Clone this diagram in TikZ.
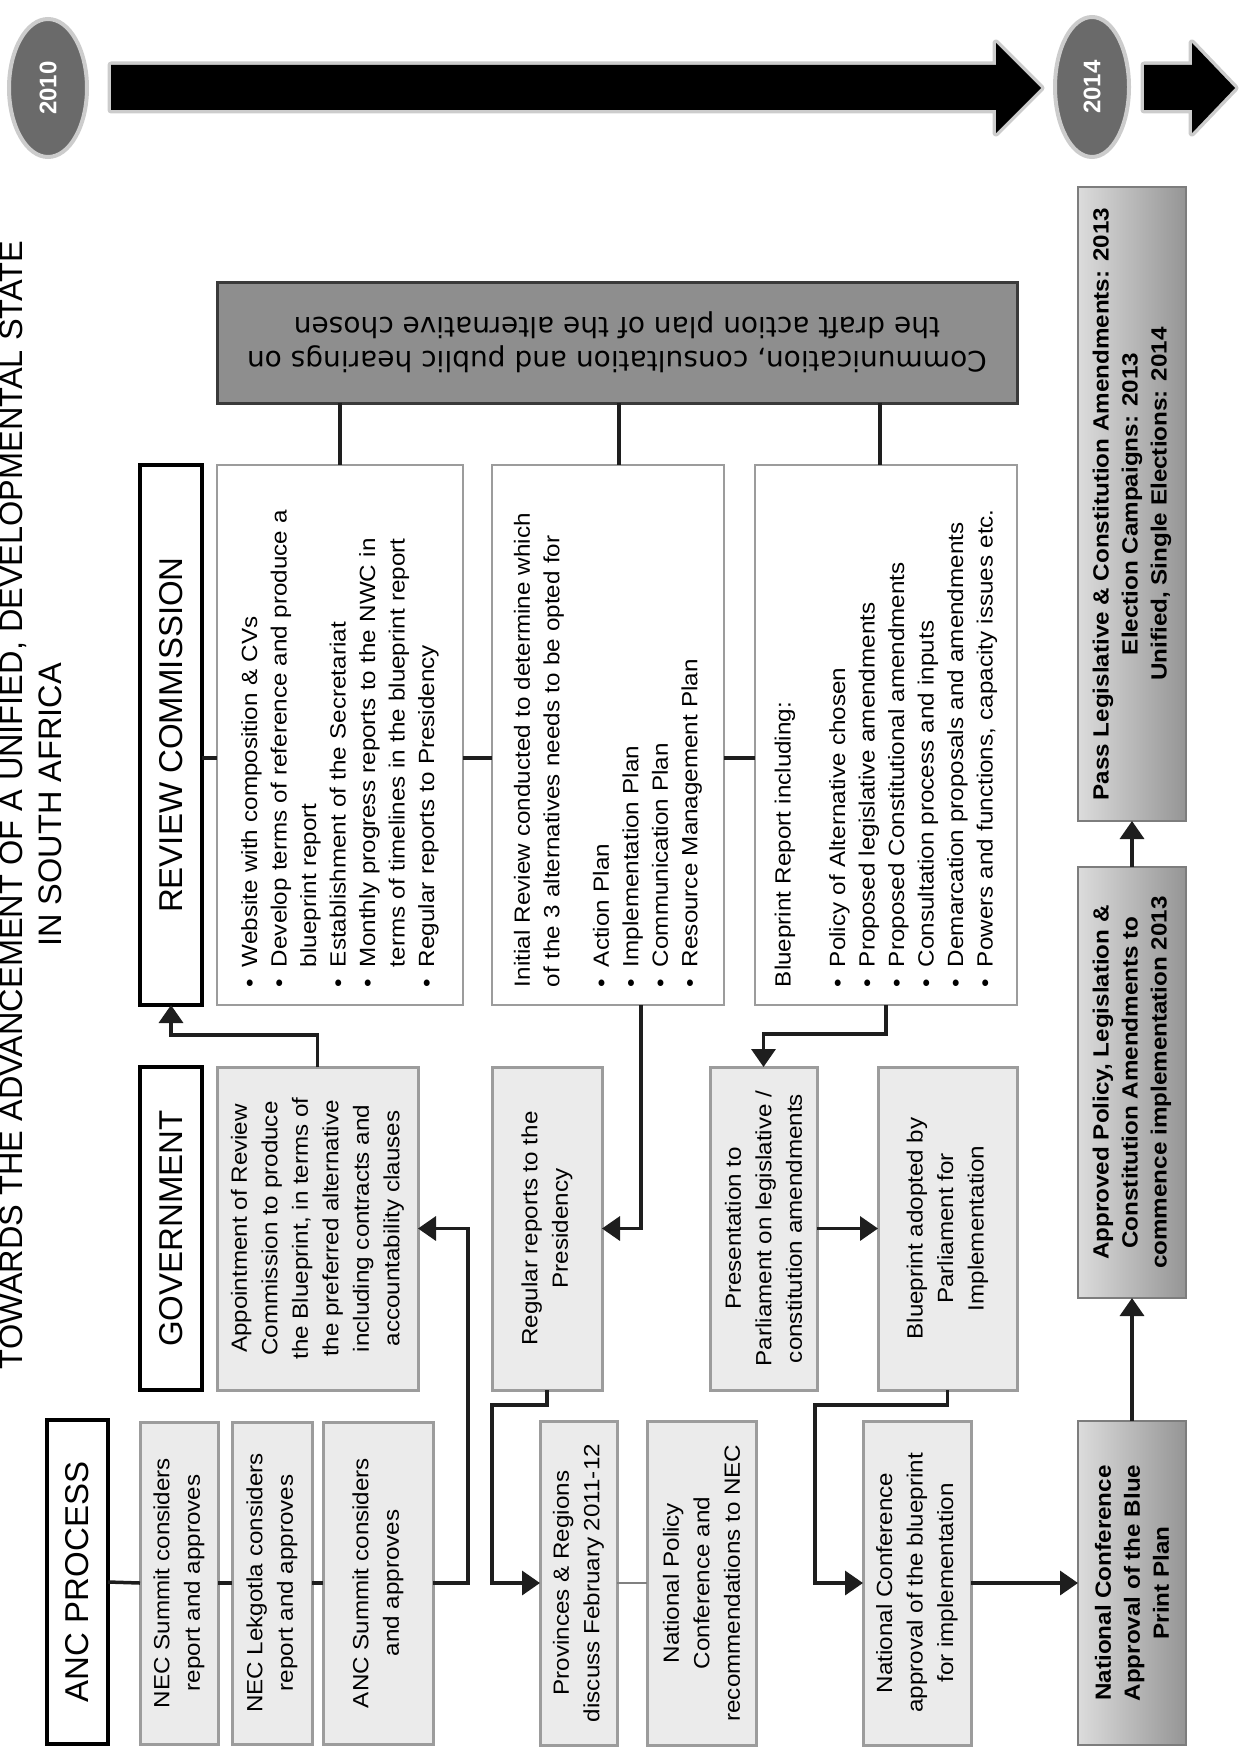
\documentclass[tikz,border=0pt]{standalone}
\usepackage{fontspec}
\setmainfont{Liberation Sans}
\newfontfamily\boxfont[FakeStretch=1.1]{Liberation Sans}
\newfontfamily\commfont{DejaVu Sans}
\usetikzlibrary{shapes.geometric,arrows.meta}

\definecolor{boxgrey}{HTML}{EBEBEB}
\definecolor{edgegrey}{HTML}{9C9C9C}
\definecolor{commgrey}{HTML}{8E8E8E}
\definecolor{commedge}{HTML}{3A3A3A}
\definecolor{yeargrey}{HTML}{6A6A6A}
\definecolor{linkcol}{HTML}{1E1E1E}
\definecolor{shadetop}{HTML}{959595}
\definecolor{shadelow}{HTML}{DCDCDC}

\newcommand{\bul}{\makebox[20pt][l]{\textbullet}}
\newcommand{\nobul}{\hspace*{20pt}}

\begin{document}
\begin{tikzpicture}[x=1pt,y=-1pt,
    % Define styles for the boxes and links
    turned/.style={rotate=90,inner sep=0pt,outer sep=0pt},
    headbox/.style={turned,draw=black,line width=4.5pt,fill=white,font=\fontsize{33}{40}\selectfont},
    greybox/.style={turned,draw=edgegrey,line width=3pt,fill=boxgrey,align=center,font=\boxfont\fontsize{22}{30.5}\selectfont},
    whitebox/.style={turned,draw=edgegrey,line width=2.5pt,fill=white,align=left,inner xsep=18pt,text width=504pt,font=\boxfont\fontsize{22}{29.5}\selectfont},
    darkbox/.style={turned,draw=edgegrey!80!black,line width=2pt,left color=shadelow,right color=shadetop,align=center,font=\boxfont\bfseries\fontsize{22}{29}\selectfont},
    yearoval/.style={turned,ellipse,fill=yeargrey,draw=gray!40,line width=4pt,text=white,font=\bfseries\fontsize{24}{24}\selectfont},
    link/.style={line width=3.5pt,draw=linkcol},
    thinlink/.style={line width=1.5pt,draw=gray},
    arrowline/.style={link,-{Triangle[length=18pt,width=24pt]}}]
    \useasboundingbox (0,0) rectangle (1242,1747);

    % Title and time line
    \node[turned,anchor=north,align=center,font=\fontsize{32.5}{39}\selectfont] (title) at (0,805)
        {TOWARDS THE ADVANCEMENT OF A UNIFIED, DEVELOPMENTAL STATE\\IN SOUTH AFRICA};
    \node[yearoval,minimum width=138pt,minimum height=78pt] (y2010) at (48,88) {2010};
    \node[yearoval,minimum width=140pt,minimum height=74pt] (y2014) at (1092,87) {2014};
    \fill[black,preaction={draw=gray!40,line width=7pt,line join=round}]
        (111,65) -- (996,65) -- (996,43) -- (1041,88) -- (996,133) -- (996,110) -- (111,110) -- cycle;
    \fill[black,preaction={draw=gray!40,line width=7pt,line join=round}]
        (1144,65) -- (1192,65) -- (1192,43) -- (1235,88) -- (1192,133) -- (1192,110) -- (1144,110) -- cycle;

    % Column heads
    \node[headbox,minimum width=324pt,minimum height=61pt] (hanc) at (77.5,1582) {ANC PROCESS};
    \node[headbox,minimum width=323pt,minimum height=62pt] (hgov) at (171,1228.5) {GOVERNMENT};
    \node[headbox,minimum width=540pt,minimum height=62pt] (hrev) at (171,735) {REVIEW COMMISSION};

    % ANC process
    \node[greybox,minimum width=322pt,minimum height=78pt] (a1) at (179,1583) {NEC Summit considers\\report and approves};
    \node[greybox,minimum width=322pt,minimum height=80pt] (a2) at (272,1583) {NEC Lekgotla considers\\report and approves};
    \node[greybox,minimum width=322pt,minimum height=110pt] (a3) at (378,1583) {ANC Summit considers\\and approves};

    % Government
    \node[greybox,minimum width=323pt,minimum height=201pt] (g1) at (317.5,1228.5)
        {Appointment of Review\\Commission to produce\\the Blueprint, in terms of\\the preferred alternative\\including contracts and\\accountability clauses};

    % Review commission
    \node[whitebox,minimum width=540pt,minimum height=246pt] (r1) at (340,735)
        {\bul Website with composition \& CVs\\
         \bul Develop terms of reference and produce a\\
         \nobul blueprint report\\
         \bul Establishment of the Secretariat\\
         \bul Monthly progress reports to the NWC in\\
         \nobul terms of timelines in the blueprint report\\
         \bul Regular reports to Presidency};
    \node[whitebox,minimum width=540pt,minimum height=232pt] (r2) at (608,735)
        {Initial Review conducted to determine which\\
         of the 3 alternatives needs to be opted for\\[20pt]
         \bul Action Plan\\
         \bul Implementation Plan\\
         \bul Communication Plan\\
         \bul Resource Management Plan};
    \node[whitebox,minimum width=540pt,minimum height=262pt] (r3) at (886,735)
        {Blueprint Report including:\\[25pt]
         \bul Policy of Alternative chosen\\
         \bul Proposed legislative amendments\\
         \bul Proposed Constitutional amendments\\
         \bul Consultation process and inputs\\
         \bul Demarcation proposals and amendments\\
         \bul Powers and functions, capacity issues etc.};
    \node[rotate=180,inner sep=0pt,outer sep=0pt,draw=commedge,line width=3pt,fill=commgrey,align=center,
        minimum width=800pt,minimum height=121pt,font=\commfont\fontsize{28}{34}\selectfont] (comm) at (617,342.5)
        {Communication, consultation and public hearings on\\the draft action plan of the alternative chosen};

    % Middle and right hand steps
    \node[greybox,minimum width=323pt,minimum height=110pt] (p1) at (547,1228.5) {Regular reports to the\\Presidency};
    \node[greybox,minimum width=324pt,minimum height=77pt] (pr) at (578.5,1583) {Provinces \& Regions\\discuss February 2011-12};
    \node[greybox,minimum width=324pt,minimum height=109pt] (np) at (701.5,1583) {National Policy\\Conference and\\recommendations to NEC};
    \node[greybox,minimum width=323pt,minimum height=107pt] (pp) at (763.5,1228.5) {Presentation to\\Parliament on legislative /\\constitution amendments};
    \node[greybox,minimum width=323pt,minimum height=139pt] (ba) at (947.5,1228.5) {Blueprint adopted by\\Parliament for\\Implementation};
    \node[greybox,minimum width=324pt,minimum height=108pt] (nc) at (917,1583) {National Conference\\approval of the blueprint\\for implementation};

    % Outcomes
    \node[darkbox,minimum width=634pt,minimum height=108pt] (pl) at (1132,504)
        {Pass Legislative \& Constitution Amendments: 2013\\Election Campaigns: 2013\\Unified, Single Elections: 2014};
    \node[darkbox,minimum width=431pt,minimum height=108pt] (ap) at (1132,1082.5)
        {Approved Policy, Legislation \&\\Constitution Amendments to\\commence implementation 2013};
    \node[darkbox,minimum width=324pt,minimum height=108pt] (na) at (1132,1583)
        {National Conference\\Approval of the Blue\\Print Plan};

    % Connect the boxes
    \coordinate (revlvl) at (0,758);
    \draw[link] (hrev.south |- revlvl) -- (r1.north |- revlvl);
    \draw[link] (r1.south |- revlvl) -- (r2.north |- revlvl);
    \draw[link] (r2.south |- revlvl) -- (r3.north |- revlvl);
    \coordinate (c2) at ([xshift=11pt]r2.east);
    \coordinate (c3) at ([xshift=-6pt]r3.east);
    \draw[link] (comm.north -| r1.east) -- (r1.east);
    \draw[link] (comm.north -| c2) -- (c2);
    \draw[link] (comm.north -| c3) -- (c3);

    \draw[link] (hanc.south) -- (a1.north);
    \draw[link] (a1.south) -- (a2.north);
    \draw[link] (a2.south) -- (a3.north);
    \draw[arrowline] (a3.south) -- ++(35,0) |- (g1.south);
    \draw[arrowline] (g1.east) -- ++(0,-32) -| (hrev.west);
    \draw[arrowline] ([xshift=33pt]r2.west) |- (p1.south);
    \draw[arrowline] (p1.west) -- ++(0,15) -| ([xshift=-48pt]pr.north) -- (pr.north);
    \draw[thinlink] (pr.south) -- (np.north);
    \draw[arrowline] (r3.west) -- ++(0,29) -| (pp.east);
    \draw[arrowline] (pp.south) -- (ba.north);
    \draw[arrowline] (ba.west) -- ++(0,15) -| ([xshift=-48pt]nc.north) -- (nc.north);
    \draw[arrowline] (nc.south) -- (na.north);
    \draw[arrowline] (na.east) -- (ap.west);
    \draw[arrowline] (ap.east) -- (pl.west);
\end{tikzpicture}
\end{document}
